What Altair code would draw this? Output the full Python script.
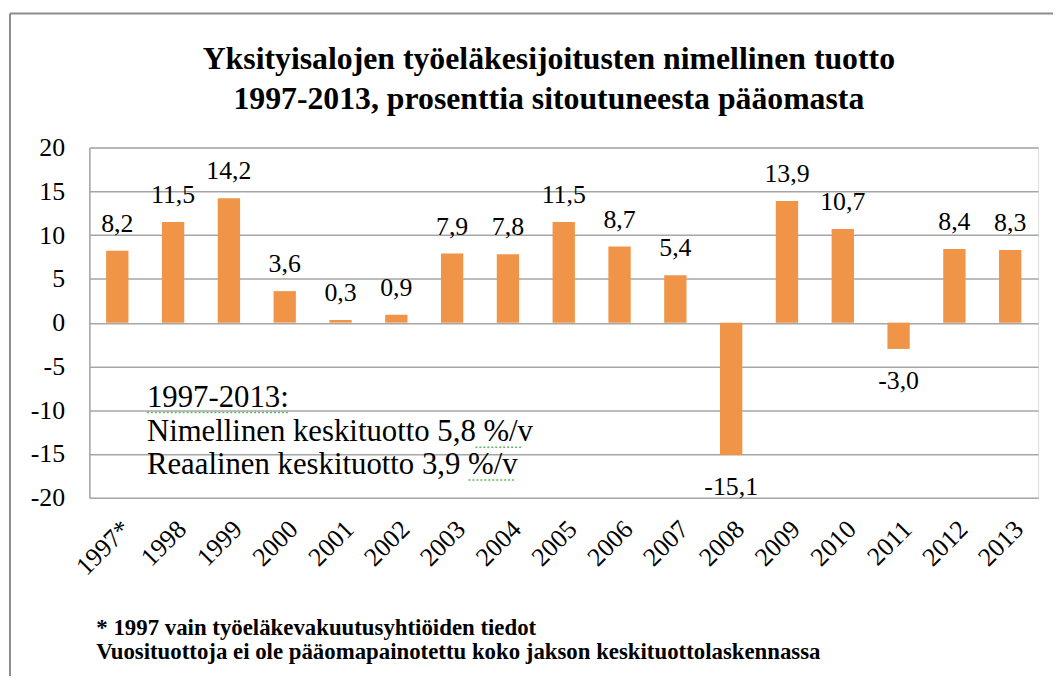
import altair as alt
import pandas as pd

years = ["1997*", "1998", "1999", "2000", "2001", "2002", "2003", "2004", "2005",
         "2006", "2007", "2008", "2009", "2010", "2011", "2012", "2013"]
values = [8.2, 11.5, 14.2, 3.6, 0.3, 0.9, 7.9, 7.8, 11.5, 8.7, 5.4, -15.1, 13.9, 10.7, -3.0, 8.4, 8.3]
y_ticks = [-20, -15, -10, -5, 0, 5, 10, 15, 20]

title_lines = ["Yksityisalojen työeläkesijoitusten nimellinen tuotto",
               "1997-2013, prosenttia sitoutuneesta pääomasta"]
note_lines = ["1997-2013:", "Nimellinen keskituotto 5,8 %/v", "Reaalinen keskituotto 3,9 %/v"]
foot_lines = ["* 1997 vain työeläkevakuutusyhtiöiden tiedot",
              "Vuosituottoja ei ole pääomapainotettu koko jakson keskituottolaskennassa"]

df = pd.DataFrame({
    "year": years,
    "value": values,
    "label": [f"{v:.1f}".replace(".", ",") for v in values],
})

FONT = "'Liberation Serif', 'Times New Roman', 'DejaVu Serif', serif"
BAR = "#F09448"
GRID = "#A6A6A6"

x_enc = alt.X("year:N", sort=years,
              scale=alt.Scale(paddingInner=0.6, paddingOuter=0.3),
              axis=alt.Axis(title=None, labelAngle=-45, labelAlign="right",
                            labelBaseline="top", labelPadding=18, ticks=False,
                            domain=False, grid=False, labelFont=FONT,
                            labelFontSize=26, labelColor="black"))
y_enc = alt.Y("value:Q", scale=alt.Scale(domain=[-20, 20], nice=False),
              axis=alt.Axis(title=None, values=y_ticks, grid=True, gridColor=GRID,
                            gridWidth=1.5, domainColor=GRID, domainWidth=1.5,
                            ticks=False, labelPadding=25, labelFont=FONT,
                            labelFontSize=26, labelColor="black",
                            labelExpr="'' + datum.value"))

base = alt.Chart(df)
bars = base.mark_bar(color=BAR).encode(x=x_enc, y=y_enc)

pos_labels = base.transform_filter("datum.value >= 0").mark_text(
    font=FONT, fontSize=26, color="black", baseline="alphabetic", dy=-19
).encode(x=alt.X("year:N", sort=years), y="value:Q", text="label:N")

neg_labels = base.transform_filter("datum.value < 0").mark_text(
    font=FONT, fontSize=26, color="black", baseline="alphabetic", dy=40
).encode(x=alt.X("year:N", sort=years), y="value:Q", text="label:N")

layers = [bars, pos_labels, neg_labels]

# title
for txt, yy in zip(title_lines, [-79, -39]):
    layers.append(alt.Chart(pd.DataFrame({"t": [txt]})).mark_text(
        font=FONT, fontSize=32, fontWeight="bold", color="black",
        align="center", baseline="alphabetic"
    ).encode(x=alt.value(463), y=alt.value(yy), text="t:N"))

# annotation inside plot
for txt, yy in zip(note_lines, [261, 296, 329]):
    layers.append(alt.Chart(pd.DataFrame({"t": [txt]})).mark_text(
        font=FONT, fontSize=31, color="black", align="left", baseline="alphabetic"
    ).encode(x=alt.value(58), y=alt.value(yy), text="t:N"))

# spell-check style squiggles under parts of the annotation
squiggle_df = pd.DataFrame({"k": [0]})
for x1, x2, yy in [(58, 200, 267), (389, 437, 302), (382, 430, 335)]:
    layers.append(alt.Chart(squiggle_df).mark_rule(
        color="#5DB85D", strokeWidth=1.5, strokeDash=[2, 2]
    ).encode(x=alt.value(x1), x2=alt.value(x2), y=alt.value(yy)))

# footnotes
for txt, yy in zip(foot_lines, [491, 515]):
    layers.append(alt.Chart(pd.DataFrame({"t": [txt]})).mark_text(
        font=FONT, fontSize=23, fontWeight="bold", color="black",
        align="left", baseline="alphabetic"
    ).encode(x=alt.value(7), y=alt.value(yy), text="t:N"))

# outer frame (top and left edges)
frame_df = pd.DataFrame({"k": [0]})
layers.append(alt.Chart(frame_df).mark_rule(color="#8C8C8C", strokeWidth=2).encode(
    x=alt.value(-80), x2=alt.value(975), y=alt.value(-135)))
layers.append(alt.Chart(frame_df).mark_rule(color="#8C8C8C", strokeWidth=2).encode(
    x=alt.value(-80), y=alt.value(-135), y2=alt.value(545)))

chart = alt.layer(*layers).properties(
    width=956, height=353,
    autosize=alt.AutoSizeParams(type="none"),
    padding={"left": 82, "top": 138, "right": 15, "bottom": 177},
).configure_view(stroke=None).configure(background="white")

chart.save("out.html", embed_options={"renderer": "svg", "actions": False})
